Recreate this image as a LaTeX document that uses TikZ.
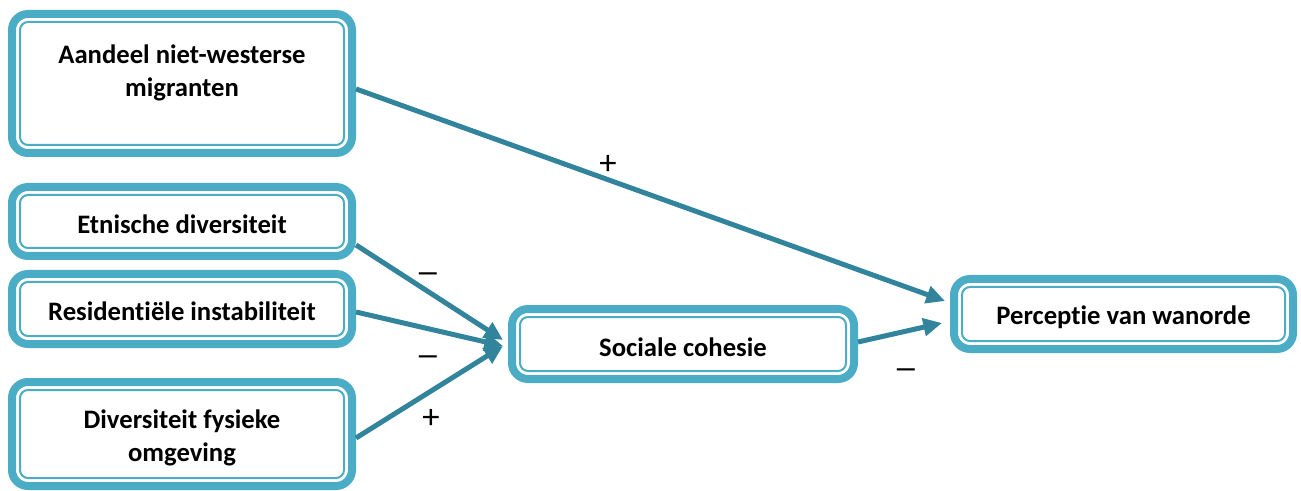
\documentclass[tikz,border=0pt]{standalone}
\usepackage{fontspec}
\setmainfont{Carlito}[Ligatures=NoCommon]
\usetikzlibrary{arrows.meta}
\definecolor{boxc}{HTML}{4BACC6}
\definecolor{arrc}{HTML}{31849B}
\tikzset{
  cbox/.style={draw=boxc, line width=6pt, rounded corners=12pt, fill=white, inner sep=0pt,
    path picture={\draw[boxc, line width=1.5pt, rounded corners=6pt]
      ([shift={(6pt,-6pt)}]path picture bounding box.north west) rectangle
      ([shift={(-6pt,6pt)}]path picture bounding box.south east);}},
  lbl/.style={font=\fontsize{20}{24.5}\selectfont\bfseries, align=center, inner sep=0pt},
  sign/.style={font=\fontsize{26}{30}\selectfont, inner sep=0pt},
  conn/.style={draw=arrc, line width=3.75pt, -{Triangle[length=14pt,width=13pt]}}
}
\newcommand{\widedash}{\scalebox{1.45}[1]{–}}
\begin{document}
\begin{tikzpicture}[x=0.75pt,y=-0.75pt]
\useasboundingbox (0,0) rectangle (1301,491);
\node[cbox, minimum width=255pt, minimum height=104.25pt] (mig) at (182,83.5) {};
\node[cbox, minimum width=255pt, minimum height=51.75pt] (eth) at (182,221.5) {};
\node[cbox, minimum width=255pt, minimum height=52.5pt] (res) at (182,309) {};
\node[cbox, minimum width=255pt, minimum height=78pt] (div) at (182,434) {};
\node[cbox, minimum width=256.5pt, minimum height=52.5pt] (soc) at (683,344) {};
\node[cbox, minimum width=254.25pt, minimum height=52.5pt] (per) at (1123.5,314) {};

\node[lbl] (migtext) at (182,73) {Aandeel niet-westerse\\migranten};
\node[lbl] (ethtext) at (182,224.5) {Etnische diversiteit};
\node[lbl] (restext) at (182,311.5) {Residentiële instabiliteit};
\node[lbl] (divtext) at (182,438) {Diversiteit fysieke\\omgeving};
\node[lbl] (soctext) at (683,347) {Sociale cohesie};
\node[lbl] (pertext) at (1123.5,317.5) {Perceptie van wanorde};

\draw[conn] ([yshift=-4.1pt]mig.east) -- ([shift={(-3.75pt,9.75pt)}]per.west);
\draw[conn] ([yshift=-17.6pt]eth.east) -- ([shift={(-3.75pt,3pt)}]soc.west);
\draw[conn] ([yshift=-2.25pt]res.east) -- ([shift={(-3.75pt,-1.5pt)}]soc.west);
\draw[conn] ([yshift=-3pt]div.east) -- ([shift={(-3.75pt,-1.5pt)}]soc.west);
\draw[conn] ([yshift=1.5pt]soc.east) -- ([shift={(-6pt,-6.75pt)}]per.west);

\node[sign] (s1) at (608,165) {+};
\node[sign] (s2) at (428,278) {\widedash};
\node[sign] (s3) at (428,361) {\widedash};
\node[sign] (s4) at (431,419) {+};
\node[sign] (s5) at (906,374) {\widedash};
\end{tikzpicture}
\end{document}
